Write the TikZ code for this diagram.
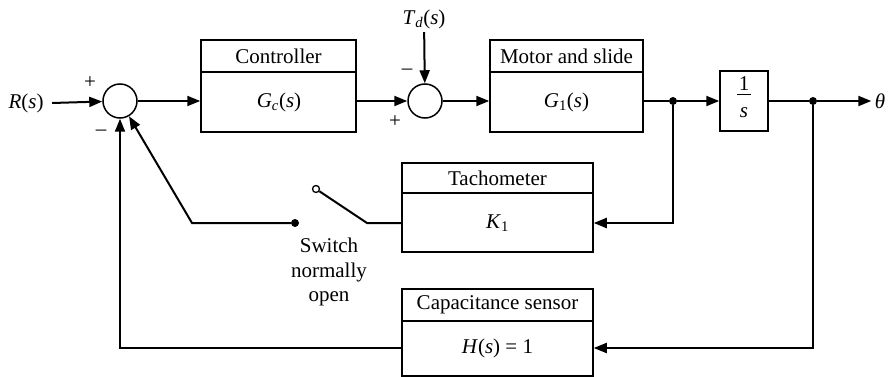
\documentclass[tikz,border=0pt]{standalone}
\usepackage{fontspec}
\setmainfont{Liberation Serif}
\usetikzlibrary{arrows.meta}
\begin{document}
\begin{tikzpicture}[x=1pt,y=-1pt,
  font=\fontsize{21}{25}\selectfont,
  conn/.style={line width=2pt,-{Triangle[length=13pt,width=10pt]}},
  wire/.style={line width=2pt},
  sumnode/.style={circle,draw,line width=1.5pt,minimum size=34pt,inner sep=0pt},
  blockbox/.style={draw,line width=1.5pt,inner sep=0pt},
  divline/.style={line width=1.5pt},
  dotnode/.style={circle,fill,inner sep=0pt,minimum size=8pt},
  opennode/.style={circle,draw,fill=white,line width=1.3pt,inner sep=0pt,minimum size=7pt},
  sign/.style={inner sep=0pt}
]
\useasboundingbox (0,0) rectangle (892,377);

% input
\node (R) at (26,103) {\textit{R}(\textit{s})};
\node[sumnode] (s1) at (120,101) {};
\node[sign] at (90,83) {+};
\node[sign] at (101,133) {\textendash};

% controller
\node[blockbox,minimum width=155pt,minimum height=92pt] (ctrl) at (278.5,86) {};
\draw[divline] (201,72) -- (356,72);
\node (ctitle) at (278.5,56) {Controller};
\node (cbodyc) at (279,102) {\textit{G}\textsubscript{\textit{c}}(\textit{s})};

% second summing junction
\node[sumnode] (s2) at (425,101) {};
\node (Td) at (424,19) {\textit{T}\textsubscript{\textit{d}}(\textit{s})};
\node[sign] at (407,72) {\textendash};
\node[sign] at (395,122) {+};

% motor
\node[blockbox,minimum width=153pt,minimum height=92pt] (motor) at (566.5,86) {};
\draw[divline] (490,72) -- (643,72);
\node (mtitle) at (566.5,56) {Motor and slide};
\node (mbody) at (566.5,102) {\textit{G}\textsubscript{1}(\textit{s})};

% integrator
\node[blockbox,minimum width=48pt,minimum height=60pt] (int) at (744,101) {};
\node (one) at (744,84) {1};
\draw[line width=1pt] (737,95) -- (751,95);
\node (ess) at (744,113) {\textit{s}};

\node[dotnode] (d1) at (673,101) {};
\node[dotnode] (d2) at (813,101) {};
\node (theta) at (880,101) {\textit{θ}};

% tachometer
\node[blockbox,minimum width=191pt,minimum height=89pt] (tach) at (497.5,207.5) {};
\draw[divline] (402,193) -- (593,193);
\node (ttitle) at (497.5,178) {Tachometer};
\node (tbody) at (497.5,223) {\textit{K}\textsubscript{1}};

% capacitance sensor
\node[blockbox,minimum width=191pt,minimum height=87pt] (cap) at (497.5,332.5) {};
\draw[divline] (402,321) -- (593,321);
\node (ptitle) at (497.5,305) {Capacitance sensor};
\node (pbody) at (497.5,348) {\textit{H}(\textit{s}) = 1};

% switch
\node[dotnode] (sw1) at (295,223) {};
\node[opennode] (sw2) at (316,189) {};
\coordinate (k1) at (192,223);
\coordinate (k2) at (367,223);
\node[align=center,font=\fontsize{21}{24.5}\selectfont] (swtext) at (329,272) {Switch\\normally\\open};

% forward path
\draw[conn] ([xshift=5pt]R.east) -- (s1);
\draw[conn] (s1) -- (ctrl.west |- s1);
\draw[conn] (ctrl.east |- s2) -- (s2);
\draw[conn] (Td) -- (s2);
\draw[conn] (s2) -- (motor.west |- s2);
\draw[wire] (motor.east |- d1) -- (d1);
\draw[conn] (d1) -- (int);
\draw[wire] (int) -- (d2);
\draw[conn] (d2) -- (theta);

% feedback paths
\draw[conn] (d1) |- (tach.east |- tbody);
\draw[conn] (d2) |- (cap.east |- pbody);
\draw[conn] (cap.west |- pbody) -| (s1);
\draw[wire] (tach.west |- tbody) -- (k2) -- (sw2);
\draw[conn] (sw1) -- (k1) -- (s1);
\end{tikzpicture}
\end{document}
